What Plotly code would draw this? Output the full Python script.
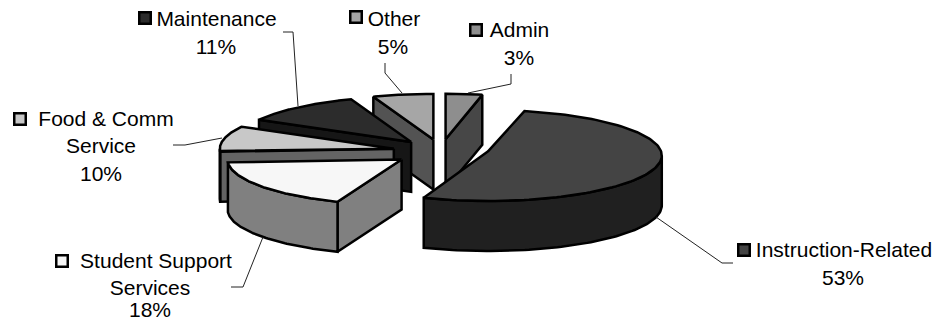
import numpy as np
import plotly.graph_objects as go

# Budget shares, clockwise from twelve o'clock
categories = ["Admin", "Instruction-Related", "Student Support Services",
              "Food & Comm Service", "Maintenance", "Other"]
shares = [3, 53, 18, 10, 11, 5]
top_colors = ["#8e8e8e", "#444444", "#f7f7f7", "#c8c8c8", "#2c2c2c", "#a6a6a6"]
wall_colors = ["#474747", "#202020", "#808080", "#646464", "#161616", "#535353"]

# Label text broken into lines, with per-line centres and the key position
label_lines = [["Admin", "3%"], ["Instruction-Related", "53%"],
               ["Student Support", "Services", "18%"],
               ["Food & Comm", "Service", "10%"], ["Maintenance", "11%"], ["Other", "5%"]]
label_cx = [[519.5, 519], [844, 843], [156, 150, 150], [106, 101, 101], [216.5, 216], [394, 393]]
label_cy = [[31.5, 59.5], [251.5, 279.5], [262.5, 289.5, 312], [120.5, 147.5, 175.5], [20.5, 48.5], [20.5, 48.5]]
key_x = [476, 744, 62, 20, 145, 356]
key_y = [30, 250, 261, 119, 18, 17]
leader_x = [[468, 511, 511], [656, 722, 733], [263, 243, 231], [222, 185, 173], [298, 293, 283], [402, 385, 385]]
leader_y = [[93, 84, 74], [217, 263, 263], [237, 287, 287], [138, 145, 145], [106, 32, 32], [93, 73, 63]]

# Projection of the tilted pie
CX, CY = 441.0, 152.0
RX, RY = 174.0, 45.5
DEPTH = 50.0
EXPLODE = 0.28
BACK_WARP = 0.065
DRAW_ORDER = [0, 5, 4, 3, 1, 2]
TIP_LIFT = [0, 4, 0, 0, 0, 0]


def project(px, py, drop=0.0):
    return CX + RX * px, CY + RY * py + drop


def warp(a):
    # The far half of the circle opens up slightly under the chart's viewing angle
    a = np.asarray(a, dtype=float)
    return a + np.where(np.cos(a) > 0, BACK_WARP * np.sin(2 * a), 0.0)


def polygon(xs, ys, fill):
    return go.Scatter(x=xs, y=ys, mode="lines", fill="toself", fillcolor=fill,
                      line=dict(color="#000000", width=2.5), hoverinfo="skip",
                      showlegend=False)


edges = np.radians(np.concatenate([[0], np.cumsum(shares)]) * 3.6)
fig = go.Figure()

for i in DRAW_ORDER:
    a0, a1 = edges[i], edges[i + 1]
    mid = (a0 + a1) / 2
    ox, oy = EXPLODE * np.sin(mid), -EXPLODE * np.cos(mid)
    tx, ty = project(ox, oy)
    ty = ty - TIP_LIFT[i]

    def rim(a, drop=0.0):
        w = warp(a)
        return project(ox + np.sin(w), oy - np.cos(w), drop)

    # Radial walls facing the viewer
    if np.sin(a0) < -1e-6:
        rx, ry = rim(a0)
        fig.add_trace(polygon([tx, rx, rx, tx, tx], [ty, ry, ry + DEPTH, ty + DEPTH, ty], wall_colors[i]))
    if np.sin(a1) > 1e-6:
        rx, ry = rim(a1)
        fig.add_trace(polygon([tx, rx, rx, tx, tx], [ty, ry, ry + DEPTH, ty + DEPTH, ty], wall_colors[i]))

    # Outer wall over the front half of the circle
    f0, f1 = max(a0, np.pi / 2), min(a1, 3 * np.pi / 2)
    if f1 > f0:
        t = np.linspace(f0, f1, 80)
        ux, uy = rim(t)
        fig.add_trace(polygon(np.r_[ux, ux[::-1], ux[0]],
                              np.r_[uy, uy[::-1] + DEPTH, uy[0]], wall_colors[i]))

    # Top face
    t = np.linspace(a0, a1, 120)
    ux, uy = rim(t)
    fig.add_trace(polygon(np.r_[tx, ux, tx], np.r_[ty, uy, ty], top_colors[i]))

# Leader lines
for xs, ys in zip(leader_x, leader_y):
    fig.add_trace(go.Scatter(x=xs, y=ys, mode="lines", line=dict(color="#222222", width=1),
                             hoverinfo="skip", showlegend=False))

# Legend keys beside the labels
fig.add_trace(go.Scatter(x=key_x, y=key_y, mode="markers", hoverinfo="skip", showlegend=False,
                         marker=dict(symbol="square", size=11.5, color=top_colors,
                                     line=dict(color="#000000", width=2.5))))

# Labels, one text item per line
for lines, xs, ys in zip(label_lines, label_cx, label_cy):
    fig.add_trace(go.Scatter(x=xs, y=ys, text=lines, mode="text", textposition="middle center",
                             textfont=dict(family="Liberation Sans", size=21, color="#000000"),
                             hoverinfo="skip", showlegend=False))

fig.update_layout(width=935, height=324, margin=dict(l=0, r=0, t=0, b=0),
                  paper_bgcolor="#ffffff", plot_bgcolor="#ffffff",
                  xaxis=dict(range=[0, 935], visible=False),
                  yaxis=dict(range=[324, 0], visible=False))
fig.write_html("out.html", config=dict(displayModeBar=False))
